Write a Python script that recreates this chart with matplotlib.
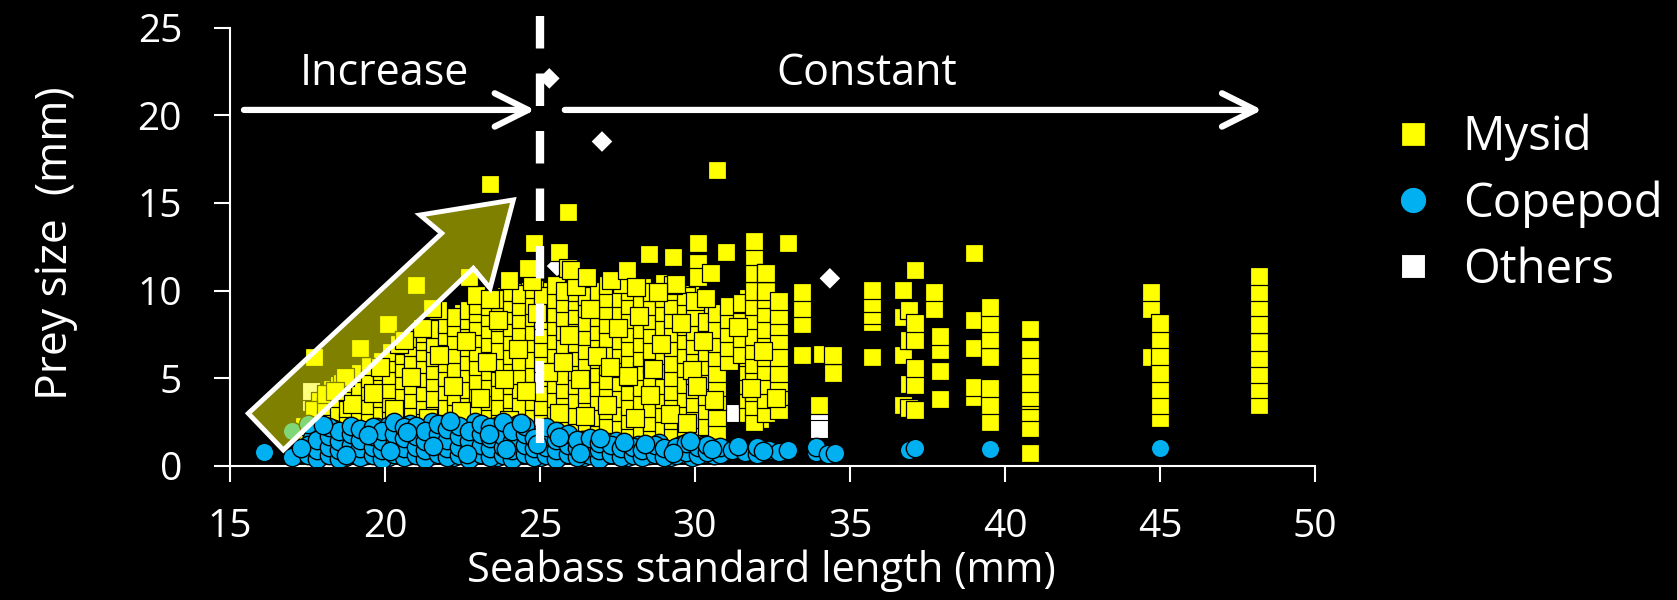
import matplotlib
matplotlib.use('Agg')
import matplotlib.pyplot as plt
from matplotlib.patches import Polygon

plt.rcParams['font.family'] = ['Open Sans', 'DejaVu Sans']

# ---------------- data ----------------
x_ticks = [15, 20, 25, 30, 35, 40, 45, 50]
y_ticks = [0, 5, 10, 15, 20, 25]
legend_labels = ['Mysid', 'Copepod', 'Others']

# Mysid: columns of prey sizes (mm)
mysid_col_x = [17.4, 17.7, 18.1, 18.5, 18.8, 19.2, 19.5, 19.9, 20.2, 20.6,
               20.9, 21.3, 21.6, 22.0, 22.3, 22.7, 23.0, 23.4, 23.7, 24.1,
               24.4, 24.8, 25.1, 25.5, 25.8, 26.2, 26.5, 26.9, 27.2, 27.6,
               27.9, 28.3, 28.6, 29.0, 29.3, 29.7, 30.0, 30.4, 30.7, 31.1,
               31.5, 31.9, 32.3, 32.7, 33.45, 34.0, 34.1, 34.45, 35.7, 36.7,
               36.9, 37.1, 37.7, 37.9, 39.0, 39.5, 40.8, 44.7, 45.0, 48.2]
mysid_col_y = [
    [1.5, 2.3],
    [1.4, 2.4, 3.2],
    [1.6, 2.6, 3.4, 4.1],
    [1.3, 2.2, 3.1, 3.9, 4.6],
    [1.7, 2.5, 3.3, 4.2, 5.0],
    [1.4, 2.1, 2.9, 3.8, 4.5, 5.3],
    [1.8, 2.6, 3.5, 4.3, 5.0, 5.7],
    [1.5, 2.3, 3.0, 3.9, 4.7, 5.4, 6.0],
    [1.2, 2.0, 2.8, 3.6, 4.4, 5.2, 5.9, 6.5],
    [1.6, 2.5, 3.3, 4.0, 4.9, 5.6, 6.3, 6.9],
    [1.3, 2.2, 3.0, 3.8, 4.6, 5.4, 6.1, 6.8, 7.3],
    [1.7, 2.6, 3.5, 4.2, 5.0, 5.8, 6.5, 7.1, 7.6],
    [1.4, 2.3, 3.1, 3.9, 4.8, 5.5, 6.2, 7.0, 7.8],
    [1.8, 2.7, 3.4, 4.3, 5.1, 5.9, 6.7, 7.4, 8.1],
    [1.5, 2.4, 3.2, 4.0, 4.7, 5.6, 6.4, 7.2, 7.9, 8.5],
    [1.9, 2.8, 3.6, 4.4, 5.3, 6.0, 6.8, 7.6, 8.3, 8.9],
    [1.6, 2.5, 3.3, 4.1, 4.9, 5.7, 6.5, 7.3, 8.0, 8.7, 9.2],
    [2.0, 2.9, 3.7, 4.5, 5.4, 6.2, 7.0, 7.8, 8.5, 9.1, 9.6],
    [1.7, 2.6, 3.4, 4.3, 5.1, 5.9, 6.6, 7.5, 8.2, 8.9, 9.5],
    [2.1, 3.0, 3.8, 4.6, 5.5, 6.3, 7.1, 7.9, 8.6, 9.3, 9.9],
    [1.8, 2.7, 3.5, 4.4, 5.2, 6.0, 6.8, 7.6, 8.4, 9.1, 9.8],
    [2.0, 2.9, 3.7, 4.5, 5.3, 6.1, 7.0, 7.7, 8.5, 9.2, 10.1],
    [1.7, 2.6, 3.4, 4.2, 5.1, 5.9, 6.7, 7.5, 8.3, 9.0, 9.7],
    [2.2, 3.0, 3.9, 4.7, 5.5, 6.4, 7.2, 8.0, 8.7, 9.5, 10.3],
    [1.8, 2.7, 3.6, 4.4, 5.2, 6.0, 6.9, 7.7, 8.5, 9.3, 10.0],
    [2.1, 2.9, 3.8, 4.6, 5.4, 6.2, 7.0, 7.8, 8.6, 9.4, 9.9],
    [1.7, 2.5, 3.3, 4.1, 5.0, 5.8, 6.6, 7.4, 8.2, 9.0, 9.7],
    [2.0, 2.8, 3.7, 4.5, 5.3, 6.1, 6.9, 7.7, 8.5, 9.3, 10.0],
    [1.6, 2.4, 3.2, 4.0, 4.9, 5.7, 6.5, 7.3, 8.1, 8.9, 9.6, 10.3],
    [2.2, 3.1, 3.9, 4.8, 5.6, 6.4, 7.2, 8.0, 8.8, 9.6],
    [1.8, 2.6, 3.4, 4.3, 5.1, 5.9, 6.8, 7.6, 8.4, 9.2, 10.0],
    [2.0, 2.9, 3.7, 4.5, 5.4, 6.2, 7.0, 7.8, 8.7, 9.5, 10.2],
    [1.7, 2.5, 3.3, 4.2, 5.0, 5.8, 6.6, 7.5, 8.3, 9.1, 9.9],
    [2.1, 3.0, 3.8, 4.6, 5.5, 6.3, 7.1, 7.9, 8.8, 9.6],
    [1.8, 2.6, 3.5, 4.3, 5.1, 5.9, 6.8, 7.6, 8.4, 9.2, 10.0],
    [2.2, 3.0, 3.9, 4.7, 5.6, 6.4, 7.2, 8.0, 8.9, 9.7],
    [1.9, 2.7, 3.6, 4.4, 5.2, 6.1, 6.9, 7.7, 8.5, 9.4],
    [2.3, 3.2, 4.0, 4.9, 5.7, 6.5, 7.4, 8.2],
    [2.0, 2.8, 3.7, 4.5, 5.3, 6.2, 7.0, 7.8, 8.7],
    [6.0, 6.8, 7.6, 8.4, 9.1],
    [6.4, 7.3, 8.2, 9.3],
    [2.5, 3.4, 4.2, 5.0, 5.8, 6.6, 7.4, 8.3, 9.1, 10.0, 11.0, 12.0, 12.8],
    [3.0, 3.8, 4.6, 5.4, 6.2, 7.0, 7.8, 8.7, 9.5, 10.0, 11.0],
    [3.2, 4.0, 4.8, 5.3, 6.2, 7.2, 8.0, 8.6, 9.4],
    [6.3, 8.1, 9.0, 9.9],
    [3.5],
    [6.4],
    [5.3, 6.3],
    [6.23, 8.23, 8.6, 9.27, 10.03],
    [3.48, 6.33, 8.51, 10.03],
    [3.3, 4.7, 7.2, 8.9],
    [3.19, 4.62, 5.57, 7.18, 8.13, 11.2],
    [8.93, 9.9],
    [3.80, 5.42, 6.61, 7.41],
    [3.95, 4.52, 6.71, 8.32, 12.13],
    [2.53, 3.48, 4.43, 6.23, 7.22, 8.13, 9.08],
    [0.72, 2.15, 3.1, 3.76, 3.95, 4.71, 5.76, 6.67, 7.81],
    [6.23, 8.93, 9.9],
    [2.72, 3.48, 4.37, 5.32, 6.29, 7.22, 8.13],
    [3.48, 4.37, 5.23, 6.14, 7.07, 8.08, 9.05, 9.9, 10.83],
]
# second, interleaved layer of the dense mysid cloud
mysid_col2_x = [17.9, 18.3, 18.65, 19.0, 19.35, 19.7, 20.05, 20.4, 20.75, 21.1,
                21.45, 21.8, 22.15, 22.5, 22.85, 23.2, 23.55, 23.9, 24.25, 24.6,
                24.95, 25.3, 25.65, 26.0, 26.35, 26.7, 27.05, 27.4, 27.75, 28.1,
                28.45, 28.8, 29.15, 29.5, 29.85, 30.2, 30.55, 31.3, 31.7, 32.1,
                32.5]
mysid_col2_y = [
    [2.0, 2.9, 3.7],
    [1.9, 2.8, 3.5, 4.4],
    [2.4, 3.6, 4.3],
    [2.0, 3.0, 3.9, 4.8],
    [2.4, 3.3, 4.1, 4.9],
    [2.0, 2.9, 3.8, 4.6, 5.3],
    [2.6, 3.4, 4.2, 5.0, 5.7],
    [2.3, 3.1, 4.0, 4.8, 5.6, 6.2],
    [2.0, 2.9, 3.6, 4.4, 5.3, 6.0, 6.6],
    [2.5, 3.3, 4.1, 5.0, 5.7, 6.5, 7.0],
    [2.1, 3.0, 3.8, 4.6, 5.4, 6.1, 6.9, 7.4],
    [2.6, 3.5, 4.3, 5.2, 6.0, 6.7, 7.5],
    [2.2, 3.0, 3.9, 4.7, 5.5, 6.3, 7.0, 7.8, 8.3],
    [2.6, 3.5, 4.4, 5.1, 6.0, 6.7, 7.5, 8.2, 8.7],
    [2.3, 3.2, 4.0, 4.8, 5.6, 6.4, 7.2, 8.0, 8.6],
    [2.7, 3.5, 4.3, 5.2, 6.0, 6.8, 7.6, 8.3, 9.0, 9.4],
    [2.4, 3.3, 4.1, 4.9, 5.8, 6.6, 7.3, 8.1, 8.8],
    [2.8, 3.6, 4.4, 5.3, 6.1, 6.9, 7.7, 8.4, 9.2, 9.7],
    [2.5, 3.4, 4.2, 5.0, 5.9, 6.7, 7.5, 8.2, 9.0, 9.6],
    [2.9, 3.7, 4.5, 5.4, 6.2, 7.0, 7.8, 8.6, 9.4, 10.0],
    [2.4, 3.3, 4.1, 4.9, 5.7, 6.5, 7.4, 8.1, 8.9, 9.6],
    [2.7, 3.6, 4.4, 5.2, 6.0, 6.8, 7.6, 8.4, 9.2, 10.0],
    [2.3, 3.2, 4.0, 4.8, 5.7, 6.5, 7.3, 8.1, 8.9, 9.7],
    [2.6, 3.4, 4.2, 5.0, 5.8, 6.6, 7.4, 8.2, 9.0, 9.8],
    [2.2, 3.1, 3.9, 4.7, 5.5, 6.4, 7.2, 8.0, 8.8, 9.5],
    [2.5, 3.4, 4.2, 5.1, 5.9, 6.7, 7.5, 8.3, 9.1],
    [2.1, 2.9, 3.8, 4.6, 5.4, 6.2, 7.0, 7.9, 8.7, 9.5],
    [2.6, 3.5, 4.3, 5.1, 6.0, 6.8, 7.6, 8.4, 9.2, 10.0],
    [2.0, 2.9, 3.7, 4.5, 5.3, 6.2, 7.0, 7.8, 8.6, 9.4],
    [2.4, 3.2, 4.1, 4.9, 5.7, 6.5, 7.4, 8.2, 9.0, 9.7],
    [2.2, 3.0, 3.9, 4.7, 5.5, 6.3, 7.2, 8.0, 8.8, 9.6],
    [2.5, 3.4, 4.2, 5.0, 5.9, 6.7, 7.5, 8.3, 9.2],
    [2.1, 2.9, 3.7, 4.6, 5.4, 6.2, 7.0, 7.9, 8.7, 9.5],
    [2.6, 3.4, 4.3, 5.1, 5.9, 6.7, 7.6, 8.4, 9.3],
    [2.2, 3.1, 3.9, 4.8, 5.6, 6.4, 7.3, 8.1, 8.9, 9.8],
    [2.5, 3.3, 4.2, 5.0, 5.8, 6.7, 7.5, 8.3, 9.0],
    [2.7, 3.5, 4.4, 5.2, 6.0, 6.9, 7.7],
    [6.7, 7.6, 8.6],
    [3.0, 3.8, 4.6, 5.4, 6.2, 7.0, 7.9, 8.8, 9.6],
    [2.7, 3.6, 4.4, 5.2, 6.0, 6.8, 7.6, 8.5, 9.3],
    [3.4, 4.2, 5.1, 5.9, 6.8, 7.6, 8.4],
]
# loose mysid points lying across the cloud (drawn on top)
mysid_loose_x = [18.95, 19.6, 20.3, 20.85, 21.4, 21.75, 22.2, 22.6, 23.05, 23.3,
                 23.65, 24.0, 24.3, 24.55, 24.9, 25.25, 25.6, 25.95, 26.3, 26.6,
                 26.85, 27.15, 27.5, 27.85, 28.2, 28.55, 28.9, 29.2, 29.55, 29.9,
                 30.25, 30.6, 31.4, 31.8, 32.2, 32.6, 22.95, 24.75, 26.15, 27.65,
                 29.0, 30.35, 21.2, 20.45, 19.85, 18.6, 23.85, 25.75, 27.25, 28.65,
                 30.05, 22.45, 26.45, 28.05, 29.75]
mysid_loose_y = [3.55, 4.15, 3.25, 5.05, 2.75, 6.35, 4.55, 7.15, 3.85, 5.95,
                 8.35, 2.65, 6.65, 4.25, 8.75, 5.35, 3.05, 7.45, 4.95, 8.95,
                 6.25, 3.45, 7.85, 5.15, 8.55, 4.05, 6.95, 2.95, 8.15, 5.45,
                 7.15, 3.75, 7.95, 4.45, 6.55, 3.85, 9.75, 10.55, 10.25, 10.35,
                 10.45, 9.55, 7.85, 6.95, 5.65, 4.75, 4.95, 5.95, 5.65, 5.55,
                 4.55, 3.15, 2.85, 2.75, 2.45]
# isolated mysid points above the main cloud
mysid_extra_x = [17.7, 19.2, 20.1, 21.0, 21.7, 22.7, 23.4, 25.9, 24.8, 25.6,
                 24.6, 25.9, 30.7, 30.1, 31.0, 28.5, 29.3, 30.1, 30.1, 30.5,
                 32.3, 29.3, 20.6, 21.5, 18.7, 26.0, 26.5, 27.3, 27.8, 24.0,
                 23.4, 28.1, 29.4, 28.8, 33.0, 18.4]
mysid_extra_y = [6.2, 6.7, 8.1, 10.3, 8.9, 10.8, 16.1, 14.5, 12.7, 12.2,
                 11.3, 11.3, 16.9, 12.7, 12.2, 12.1, 11.9, 11.6, 10.8, 11.0,
                 11.0, 10.3, 7.2, 9.0, 5.1, 11.2, 10.8, 10.6, 11.2, 10.6,
                 9.5, 10.2, 10.4, 9.9, 12.7, 4.3]

# Copepod: columns of prey sizes (mm)
copepod_col_x = [16.1, 17.0, 17.5, 17.8, 18.2, 18.5, 18.9, 19.2, 19.6, 19.9,
                 20.3, 20.6, 21.0, 21.3, 21.7, 22.0, 22.4, 22.7, 23.1, 23.4,
                 23.8, 24.1, 24.5, 24.8, 25.2, 25.5, 25.9, 26.2, 26.6, 26.9,
                 27.3, 27.6, 28.0, 28.3, 28.7, 29.0, 29.4, 29.7, 30.1, 30.4,
                 30.8, 31.2, 31.6, 32.0, 32.4, 32.7, 33.9, 34.3, 34.5, 36.9,
                 37.1, 39.5, 45.0]
copepod_col_y = [
    [0.8], [0.5, 2.0], [0.6, 1.2, 2.4], [0.4, 0.9, 1.5], [0.6, 1.1, 1.7, 2.2],
    [0.4, 0.9, 1.4, 2.0], [0.7, 1.2, 1.8, 2.3], [0.5, 1.0, 1.5, 2.1],
    [0.6, 1.1, 1.7, 2.2], [0.4, 0.9, 1.4, 2.0], [0.7, 1.2, 1.8, 2.5],
    [0.5, 1.0, 1.6, 2.2], [0.6, 1.1, 1.7, 2.3], [0.4, 0.9, 1.4, 2.0],
    [0.7, 1.2, 1.8, 2.4], [0.5, 1.0, 1.5, 2.1], [0.6, 1.1, 1.7, 2.3],
    [0.4, 0.9, 1.4, 2.0], [0.7, 1.2, 1.8, 2.4], [0.5, 1.0, 1.6, 2.2],
    [0.6, 1.1, 1.7, 2.5], [0.4, 0.9, 1.4, 2.0], [0.7, 1.2, 1.8, 2.3],
    [0.5, 1.0, 1.6], [0.6, 1.1, 1.7, 2.2], [0.4, 0.9, 1.5, 2.0],
    [0.7, 1.2, 1.8], [0.5, 1.0, 1.5], [0.6, 1.1, 1.6], [0.4, 0.9, 1.3],
    [0.7, 1.2], [0.5, 1.0], [0.6, 1.1], [0.5, 0.9], [0.7, 1.2], [0.5, 1.0],
    [0.6, 1.1], [0.8, 1.3], [0.6, 1.1], [0.8, 1.2], [0.7, 1.1], [0.9], [0.8],
    [0.7, 1.1], [0.9], [0.8], [0.8, 1.1], [0.7], [0.75], [0.9], [1.05],
    [0.95], [1.05],
]
copepod_col2_x = [17.65, 18.0, 18.35, 18.7, 19.05, 19.4, 19.75, 20.1, 20.45, 20.8,
                  21.15, 21.5, 21.85, 22.2, 22.55, 22.9, 23.25, 23.6, 23.95, 24.3,
                  24.65, 25.0, 25.35, 25.7, 26.05, 26.4, 26.75, 27.1, 27.45, 27.8,
                  28.15, 28.5, 28.85, 29.2, 29.55, 29.9, 30.25, 30.6]
copepod_col2_y = [
    [0.8, 1.6], [0.6, 1.3, 1.9], [0.8, 1.5, 2.1], [0.5, 1.1, 1.7],
    [0.8, 1.4, 2.0], [0.6, 1.3, 1.9], [0.9, 1.5, 2.2], [0.5, 1.0, 1.6, 2.3],
    [0.8, 1.4, 2.0], [0.6, 1.2, 1.9, 2.4], [0.9, 1.5, 2.1], [0.6, 1.2, 1.8, 2.5],
    [0.8, 1.4, 2.0], [0.5, 1.2, 1.8, 2.4], [0.9, 1.5, 2.1], [0.6, 1.2, 1.9, 2.5],
    [0.8, 1.4, 2.0], [0.5, 1.1, 1.7, 2.3], [0.9, 1.5, 2.1], [0.6, 1.2, 1.8, 2.4],
    [0.8, 1.4, 1.9], [0.5, 1.1, 1.7], [0.8, 1.3, 1.9], [0.6, 1.1, 1.6],
    [0.8, 1.4], [0.5, 1.0, 1.5], [0.8, 1.3], [0.6, 1.0], [0.8, 1.4], [0.5, 0.9],
    [0.8, 1.2], [0.6, 1.0], [0.8, 1.3], [0.5, 0.9], [0.7, 1.2], [0.5, 1.0],
    [0.7, 1.2], [0.6, 1.0],
]
copepod_loose_x = [17.3, 18.0, 18.75, 19.45, 20.15, 20.7, 21.55, 22.1, 22.65, 23.35,
                   23.9, 24.4, 24.9, 25.6, 26.3, 26.95, 27.7, 28.4, 29.3, 29.85,
                   30.55, 31.4, 32.2, 33.0]
copepod_loose_y = [1.0, 2.35, 0.65, 1.75, 0.85, 1.95, 1.15, 2.55, 0.7, 1.85,
                   0.95, 2.45, 1.25, 1.65, 0.75, 1.6, 1.35, 1.25, 0.75, 1.45,
                   0.95, 1.15, 0.85, 0.9]

# Others (white squares and diamonds)
others_x = [17.6, 17.6, 19.5, 30.1, 31.2, 34.0, 34.0]
others_y = [3.65, 4.3, 5.1, 3.4, 3.0, 2.85, 2.1]
diamond_x = [25.3, 27.0, 34.35, 25.55]
diamond_y = [22.1, 18.5, 10.7, 11.4]


def expand(cols_x, cols_y):
    xs = [x for x, ys in zip(cols_x, cols_y) for _ in ys]
    ys_flat = [y for ys in cols_y for y in ys]
    return xs, ys_flat


# ---------------- expand columns ----------------
mx1, my1 = expand(mysid_col_x, mysid_col_y)
mx2, my2 = expand(mysid_col2_x, mysid_col2_y)
cx1, cy1 = expand(copepod_col_x, copepod_col_y)
cx2, cy2 = expand(copepod_col2_x, copepod_col2_y)
mx = mx2 + mx1 + mysid_loose_x + mysid_extra_x
my = my2 + my1 + mysid_loose_y + mysid_extra_y
cx = cx2 + cx1 + copepod_loose_x
cy = cy2 + cy1 + copepod_loose_y

# ---------------- figure ----------------
YELLOW = '#FFFF00'
BLUE = '#00B0F0'

fig = plt.figure(figsize=(16.77, 6.0), dpi=100, facecolor='black')
ax = fig.add_axes([230 / 1677, 1 - 466 / 600, 1085 / 1677, 438.5 / 600])
ax.set_facecolor('black')

h_oth = ax.scatter(others_x, others_y, marker='s', s=150, c='white',
                   edgecolors='black', linewidths=0.8, zorder=2, label=legend_labels[2])
ax.scatter(diamond_x, diamond_y, marker='D', s=110, c='white',
           edgecolors='none', zorder=2.5)
h_mys = ax.scatter(mx, my, marker='s', s=150, c=YELLOW,
                   edgecolors='black', linewidths=0.9, zorder=3, label=legend_labels[0])
h_cop = ax.scatter(cx, cy, marker='o', s=175, c=BLUE,
                   edgecolors='black', linewidths=1.0, zorder=4, label=legend_labels[1])

# axes styling
ax.set_xlim(15, 50)
ax.set_ylim(0, 25)
ax.set_xticks(x_ticks)
ax.set_yticks(y_ticks)
for side in ('top', 'right'):
    ax.spines[side].set_visible(False)
for side in ('left', 'bottom'):
    ax.spines[side].set_color('white')
    ax.spines[side].set_linewidth(1.5)
ax.tick_params(axis='both', colors='white', direction='out', length=11.5,
               width=1.5, labelsize=28)
ax.tick_params(axis='y', pad=23)
ax.tick_params(axis='x', pad=19)

ax.set_xlabel('Seabass standard length (mm)', color='white', fontsize=30)
ax.set_ylabel('Prey size  (mm)', color='white', fontsize=32)
ax.xaxis.set_label_coords(0.49, -0.19)
ax.yaxis.set_label_coords(-0.14, 0.508)

# dashed vertical boundary
ax.plot([25, 25], [25.65, 1.3], color='white', lw=6,
        linestyle=(0, (3.9, 3.0)), solid_capstyle='butt', dash_capstyle='butt',
        clip_on=False, zorder=6)

# big translucent arrow
arrow_pts = [(15.59, 3.0), (21.83, 13.27), (21.13, 14.31), (24.14, 15.17),
             (23.39, 10.13), (22.85, 11.27), (16.72, 0.91)]
ax.add_patch(Polygon(arrow_pts, closed=True, facecolor=(1, 1, 0, 0.5),
                     edgecolor='white', linewidth=3.5, joinstyle='miter',
                     zorder=5, clip_on=False))

# horizontal arrows + labels
arrow_kw = dict(arrowstyle='->,head_length=1.2,head_width=0.6', color='white',
                lw=4.5, mutation_scale=20, shrinkA=0, shrinkB=0)
ax.annotate('', xy=(24.84, 20.3), xytext=(15.45, 20.3),
            arrowprops=arrow_kw, annotation_clip=False, zorder=6)
ax.annotate('', xy=(48.3, 20.3), xytext=(25.8, 20.3),
            arrowprops=arrow_kw, annotation_clip=False, zorder=6)
ax.text(19.97, 21.72, 'Increase', color='white', fontsize=31,
        ha='center', va='baseline', zorder=6)
ax.text(35.55, 21.72, 'Constant', color='white', fontsize=31,
        ha='center', va='baseline', zorder=6)

# legend
leg = fig.legend(handles=[h_mys, h_cop, h_oth], labels=legend_labels,
                 loc='upper left', bbox_to_anchor=(1366 / 1677, 1 - 90 / 600),
                 frameon=False, fontsize=34, labelcolor='white',
                 handlelength=1.0, handletextpad=0.55, labelspacing=0.40,
                 borderpad=0, markerscale=1.45, scatteryoffsets=[0.5])

fig.savefig('out.png', dpi=100, facecolor='black')
